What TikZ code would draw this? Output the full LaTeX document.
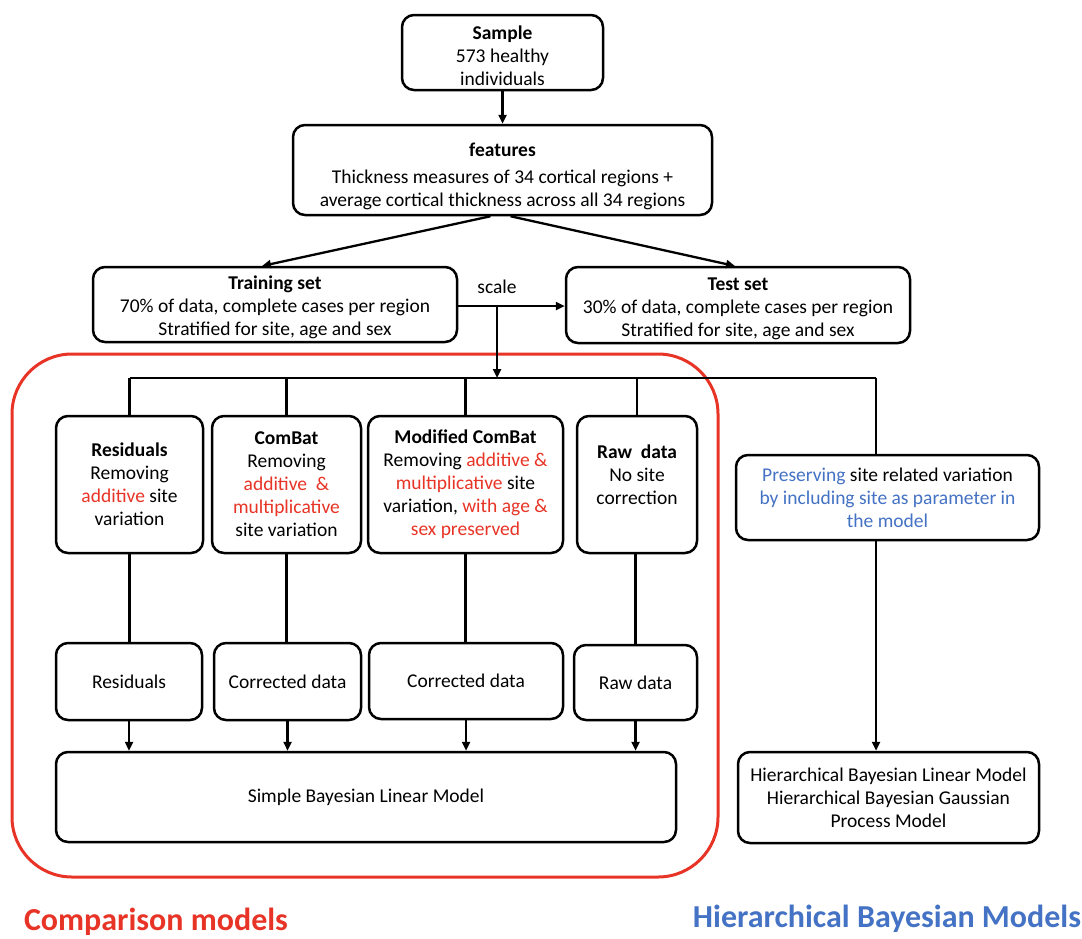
\documentclass[tikz,border=0pt]{standalone}
\usepackage{fontspec}
\setmainfont{Carlito}
\usetikzlibrary{arrows.meta}
\definecolor{cred}{RGB}{232,52,38}
\definecolor{cblue}{RGB}{68,114,196}
\tikzset{
  box/.style={draw, line width=2.5pt, rounded corners=12pt, align=center, inner sep=0pt, fill=white,
    font=\fontsize{19.5}{23}\selectfont},
  conn/.style={line width=2.3pt},
  arr/.style={line width=2.3pt, -{Triangle[length=9pt,width=8pt]}},
}
\begin{document}
\begin{tikzpicture}[x=1pt,y=-1pt]
\useasboundingbox (0,0) rectangle (1082,938);
% red frame
\draw[cred, line width=3pt, rounded corners=60pt] (12,354) rectangle (718,877);
% nodes
\node[box, minimum width=201pt, minimum height=75pt] (sample) at (502.5,52.5) {\mbox{}\\[-3pt]\textbf{Sample}\\573 healthy\\individuals};
\node[box, minimum width=419pt, minimum height=90pt] (features) at (502.5,170) {\mbox{}\\[4pt]\textbf{features}\\[4pt]Thickness measures of 34 cortical regions +\\average cortical thickness across all 34 regions};
\node[box, minimum width=364pt, minimum height=75pt] (train) at (275,304.5) {\mbox{}\\[-3pt]\textbf{Training set}\\70\% of data, complete cases per region\\Stratified for site, age and sex};
\node[box, minimum width=344pt, minimum height=76pt] (test) at (738,305) {\mbox{}\\[-3pt]\textbf{Test set}\\30\% of data, complete cases per region\\Stratified for site, age and sex};
\node[font=\fontsize{19.5}{23}\selectfont] (scale) at (497,287) {scale};
\node[box, minimum width=147pt, minimum height=137pt] (res1) at (129.5,484.5) {\textbf{Residuals}\\Removing\\\textcolor{cred}{additive} site\\variation};
\node[box, minimum width=149pt, minimum height=137pt] (cb1) at (286.5,484.5) {\textbf{ComBat}\\Removing\\\textcolor{cred}{additive \ \&}\\\textcolor{cred}{multiplicative}\\site variation};
\node[box, minimum width=195pt, minimum height=137pt] (mcb1) at (465.5,484.5) {\textbf{Modified ComBat}\\Removing \textcolor{cred}{additive \&}\\\textcolor{cred}{multiplicative} site\\variation, \textcolor{cred}{with age \&}\\\textcolor{cred}{sex preserved}};
\node[box, minimum width=120pt, minimum height=137pt] (raw1) at (637,484.5) {\textbf{Raw \ data}\\No site\\correction\\[-4pt]\mbox{}};
\node[box, minimum width=303pt, minimum height=85pt] (pres) at (887.5,497.5) {\textcolor{cblue}{Preserving} site related variation\\\textcolor{cblue}{by including site as parameter in}\\\textcolor{cblue}{the model}};
\node[box, minimum width=146pt, minimum height=77pt] (res2) at (129,681.5) {Residuals};
\node[box, minimum width=147pt, minimum height=77pt] (cb2) at (287.5,681.5) {Corrected data};
\node[box, minimum width=194pt, minimum height=76pt] (mcb2) at (466,681) {Corrected data};
\node[box, minimum width=123pt, minimum height=75pt] (raw2) at (635.5,682.5) {Raw data};
\node[box, minimum width=620pt, minimum height=90pt] (simple) at (366,797) {Simple Bayesian Linear Model};
\node[box, minimum width=301pt, minimum height=91pt] (hblm) at (888.5,797.5) {Hierarchical Bayesian Linear Model\\Hierarchical Bayesian Gaussian\\Process Model};
\node[font=\fontsize{32}{36}\selectfont\bfseries, text=cred] (cmp) at (156,922) {Comparison models};
\node[font=\fontsize{32}{36}\selectfont\bfseries, text=cblue] (hbm) at (887,919) {Hierarchical Bayesian Models};
% coordinates
\coordinate (fl) at ([xshift=-12pt]features.south);
\coordinate (fr) at ([xshift=8pt]features.south);
\coordinate (tl) at (262,266);
\coordinate (tr) at (735,266);
\coordinate (sp) at (497,306);
\coordinate (bus) at (497,378);
\coordinate (busl) at (res1.north |- bus);
\coordinate (busend) at (876,378);
% connectors
\draw[arr] (sample) -- (features);
\draw[arr] (fl) -- (tl);
\draw[arr] (fr) -- (tr);
\draw[arr] (train.east |- sp) -- (test.west |- sp);
\draw[arr] (sp) -- (bus);
\draw[conn] (busl) -- (busend);
\draw[conn] (busl) -- (res1.north);
\draw[conn] (cb1.north |- bus) -- (cb1.north);
\draw[conn] (mcb1.north |- bus) -- (mcb1.north);
\draw[conn] (raw1.north |- bus) -- (raw1.north);
\draw[conn] (busend) -- (busend |- pres.north);
\draw[conn] (res1) -- (res1 |- res2.north);
\draw[conn] (cb1) -- (cb1 |- cb2.north);
\draw[conn] (mcb1) -- (mcb1 |- mcb2.north);
\draw[conn] (raw2 |- raw1.south) -- (raw2);
\draw[arr] (res2) -- (res2 |- simple.north);
\draw[arr] (cb2) -- (cb2 |- simple.north);
\draw[arr] (mcb2) -- (mcb2 |- simple.north);
\draw[arr] (raw2) -- (raw2 |- simple.north);
\draw[arr] (busend |- pres.south) -- (busend |- hblm.north);
\end{tikzpicture}
\end{document}
